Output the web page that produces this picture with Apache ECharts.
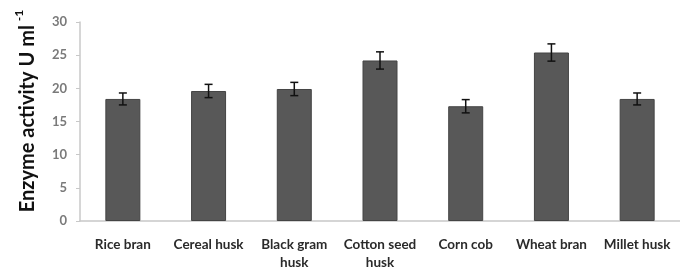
<!DOCTYPE html>
<html><head><meta charset="utf-8">
<script src="https://cdn.jsdelivr.net/npm/echarts@6/dist/echarts.min.js"></script>
<style>html,body{margin:0;padding:0;background:#fff}#c{width:680px;height:274px}</style>
</head><body><div id="c"></div>
<script>
const categories = ['Rice bran', 'Cereal husk', 'Black gram\nhusk', 'Cotton seed\nhusk', 'Corn cob', 'Wheat bran', 'Millet husk'];
const activity = [18.4, 19.6, 19.9, 24.2, 17.3, 25.4, 18.4];
const errors = [0.9, 1.0, 1.0, 1.3, 1.0, 1.3, 0.9];
const yTicks = [0, 5, 10, 15, 20, 25, 30];

const chart = echarts.init(document.getElementById('c'), null, {renderer: 'canvas'});
const errData = activity.map((v, i) => [i, v - errors[i], v + errors[i]]);
chart.setOption({
  animation: false,
  backgroundColor: '#fff',
  grid: {left: 80, right: -2, top: 22, bottom: 53},
  xAxis: {
    type: 'category', data: categories,
    axisLine: {lineStyle: {color: '#c8c8c8', width: 1.5}},
    axisTick: {show: false},
    axisLabel: {color: '#2a2a2a', fontFamily: 'Lato', fontWeight: 'bold', fontSize: 13.5, margin: 15, lineHeight: 18, interval: 0}
  },
  yAxis: {
    type: 'value', min: yTicks[0], max: yTicks[yTicks.length - 1], interval: 5,
    splitLine: {show: false},
    axisLine: {show: true, lineStyle: {color: '#c8c8c8', width: 1.5}},
    axisTick: {show: true, inside: false, length: 4, lineStyle: {color: '#c8c8c8'}},
    axisLabel: {color: '#7a7a7a', fontFamily: 'Lato', fontWeight: 'bold', fontSize: 13, margin: 13}
  },
  graphic: [{
    type: 'text', x: 28, y: 111, rotation: Math.PI / 2,
    style: {
      text: '{a|Enzyme activity U ml}{s|-1}',
      align: 'center', verticalAlign: 'middle',
      rich: {
        a: {fontFamily: 'Lato', fontWeight: 'bold', fontSize: 20, fill: '#111'},
        s: {fontFamily: 'Lato', fontWeight: 'bold', fontSize: 12, fill: '#111', padding: [0, 0, 18, 4]}
      }
    }
  }],
  series: [{
    type: 'bar', data: activity, barWidth: 35,
    itemStyle: {color: '#585858', borderColor: '#444', borderWidth: 1}
  }, {
    type: 'custom', data: errData,
    renderItem: function (params, api) {
      const x = api.coord([api.value(0), api.value(1)])[0];
      const yLo = api.coord([api.value(0), api.value(1)])[1];
      const yHi = api.coord([api.value(0), api.value(2)])[1];
      const w = 4;
      const st = {stroke: '#111', lineWidth: 1.5};
      return {type: 'group', children: [
        {type: 'line', shape: {x1: x, y1: yLo, x2: x, y2: yHi}, style: st},
        {type: 'line', shape: {x1: x - w, y1: yHi, x2: x + w, y2: yHi}, style: st},
        {type: 'line', shape: {x1: x - w, y1: yLo, x2: x + w, y2: yLo}, style: st}
      ]};
    },
    z: 10
  }]
});
</script></body></html>
